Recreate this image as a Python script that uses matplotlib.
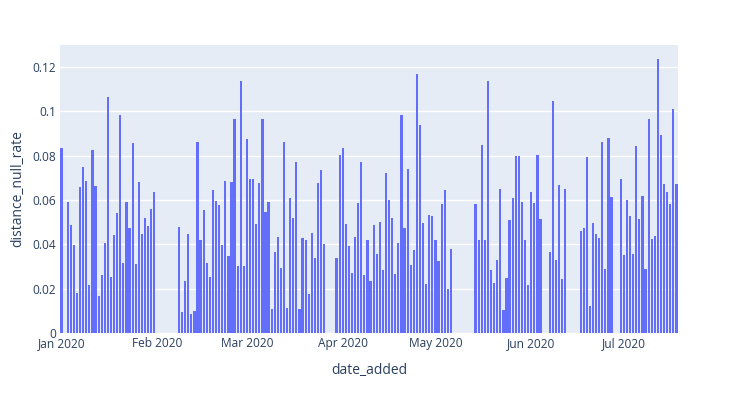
import numpy as np
import pandas as pd
import matplotlib
matplotlib.use("Agg")
import matplotlib.pyplot as plt
import matplotlib.dates as mdates

# one value per day from Jan 1 to Jul 18 2020, nan = no bar on that day
dates = pd.date_range("2020-01-01", "2020-07-18", freq="D")
nan = np.nan

jan = [0.0833, nan,
       0.0591, 0.0489, 0.0397, 0.0179, 0.0659, 0.0750, 0.0687, 0.0217, 0.0824, 0.0665,
       0.0167, 0.0260, 0.0406, 0.1066, 0.0254, 0.0444, 0.0541, 0.0986, 0.0315, 0.0591,
       0.0474, 0.0856, 0.0311, 0.0681, 0.0448, 0.0519, 0.0484, 0.0559, 0.0638]
feb_mar = [nan] * 7 + [
    0.0478, 0.0096, 0.0236, 0.0448, 0.0086, 0.0098, 0.0863, 0.0418, 0.0553, 0.0317,
    0.0254, 0.0644, 0.0598, 0.0580, 0.0397, 0.0687, 0.0347, 0.0681, 0.0967, 0.0302,
    0.1137, 0.0302, 0.0877, 0.0695, 0.0695, 0.0493, 0.0677,
    0.0967, 0.0544, 0.0591, 0.0107, 0.0367, 0.0433, 0.0293, 0.0863, 0.0114, 0.0608,
    0.0519, 0.0774, 0.0110, 0.0427, 0.0418, 0.0174, 0.0451, 0.0338, 0.0677, 0.0735,
    0.0402]
apr_may = [nan] * 3 + [
    0.0338, 0.0803, 0.0833, 0.0493, 0.0391,
    0.0271, 0.0433, 0.0586, 0.0774, 0.0262, 0.0421, 0.0235, 0.0486, 0.0358, 0.0502,
    0.0283, 0.0722, 0.0600, 0.0519, 0.0266, 0.0406, 0.0986, 0.0474, 0.0740, 0.0308,
    0.0373, 0.1167, 0.0937, 0.0498, 0.0220, 0.0534, 0.0529, 0.0420, 0.0325, 0.0582,
    0.0645, 0.0198, 0.0379]
may_jun = [nan] * 7 + [
    0.0582, 0.0421, 0.0848, 0.0421, 0.1137, 0.0284, 0.0226, 0.0331, 0.0651, 0.0105,
    0.0248, 0.0508, 0.0611, 0.0798, 0.0798, 0.0591, 0.0421, 0.0217, 0.0635, 0.0586,
    0.0803, 0.0514]
jun = [nan] * 2 + [0.0364, 0.1048, 0.0331, 0.0666, 0.0242, 0.0651] + [nan] * 4 + [
    0.0459, 0.0474, 0.0795, 0.0123, 0.0498, 0.0448, 0.0427, 0.0862, 0.0289, 0.0881,
    0.0614]
jul = [nan] * 2 + [
    0.0696, 0.0352, 0.0600, 0.0529, 0.0355, 0.0844, 0.0516, 0.0618, 0.0287, 0.0964,
    0.0424, 0.0438, 0.1235, 0.0892, 0.0672, 0.0635, 0.0582, 0.1011, 0.0672]

null_rate = np.array(jan + feb_mar + apr_may + may_jun + jun + jul)

plt.rcParams['font.family'] = ['Open Sans', 'DejaVu Sans']
txt = '#2a3f5f'

fig = plt.figure(figsize=(7.39, 3.94), dpi=100)
ax = fig.add_axes([60 / 739, 1 - 333 / 394, 618 / 739, 288 / 394])
ax.set_facecolor('#e5ecf6')

has = ~np.isnan(null_rate)
ax.bar(dates[has], null_rate[has], width=0.72, color='#636efa', linewidth=0, zorder=3)

ax.set_xlim(dates[0] - pd.Timedelta(hours=12), dates[-1] + pd.Timedelta(hours=12))
ax.set_ylim(0, 0.13)
yt = [0, 0.02, 0.04, 0.06, 0.08, 0.1, 0.12]
ax.set_yticks(yt)
ax.set_yticklabels(['0', '0.02', '0.04', '0.06', '0.08', '0.1', '0.12'])
ax.yaxis.grid(True, color='white', linewidth=1, zorder=0)
ax.xaxis.set_major_locator(mdates.MonthLocator())
ax.xaxis.set_major_formatter(mdates.DateFormatter('%b %Y'))

for s in ax.spines.values():
    s.set_visible(False)
ax.tick_params(length=0, labelsize=8.6, labelcolor=txt, pad=3)

ax.set_xlabel('date_added', fontsize=10, color=txt, labelpad=9)
ax.set_ylabel('distance_null_rate', fontsize=10, color=txt)
ax.yaxis.set_label_coords(-35 / 618, 0.5)

fig.savefig('out.png', dpi=100)
